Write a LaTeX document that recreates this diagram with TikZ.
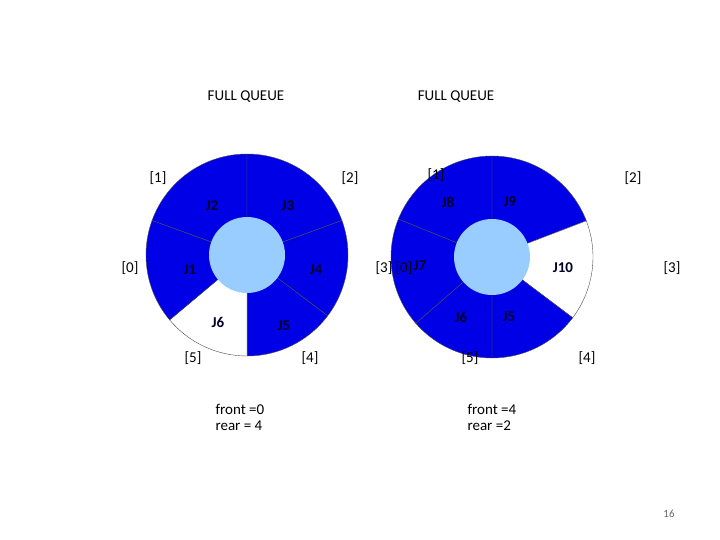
\documentclass[tikz,border=0pt]{standalone}
\usepackage{fontspec}
\setmainfont{Carlito}
\begin{document}
\begin{tikzpicture}[x=1pt,y=-1pt,
  lbl/.style={font=\fontsize{15}{16}\selectfont},
  jl/.style={font=\fontsize{15}{16}\selectfont\bfseries, text=black!85!blue},
  sec/.style={draw=black!70, line width=0.4pt},
  inner/.style={fill=cyan!10!blue!40!white, draw=none}]
\path[use as bounding box] (0,0) rectangle (720,540);
\definecolor{qblue}{RGB}{0,0,230}
\definecolor{lblue}{RGB}{153,204,255}
% left circle
\coordinate (L) at (247,255);
\foreach \a/\b/\c in {90/160/qblue,20/90/qblue,-37/20/qblue,-90/-37/qblue,220/270/white,160/220/qblue}{
  \filldraw[sec, fill=\c] (L) -- ++(\a:101 and -101) arc[start angle=\a, end angle=\b, x radius=101, y radius=-101] -- cycle;}
\fill[lblue] (L) circle (38);
% right circle
\coordinate (R) at (492,257);
\foreach \a/\b/\c in {90/158/qblue,21/90/qblue,-37/21/white,-90/-37/qblue,221/270/qblue,158/221/qblue}{
  \filldraw[sec, fill=\c] (R) -- ++(\a:101 and -101) arc[start angle=\a, end angle=\b, x radius=101, y radius=-101] -- cycle;}
\fill[lblue] (R) circle (38);
% titles
\node[lbl] (t1) at (246,97) {FULL QUEUE};
\node[lbl] (t2) at (456,97) {FULL QUEUE};
% left labels
\node[lbl] (l1) at (158,178) {[1]};
\node[lbl] (l2) at (350,178) {[2]};
\node[lbl] (l0) at (130,268) {[0]};
\node[lbl] (l5) at (193,358) {[5]};
\node[lbl] (l4) at (310,358) {[4]};
\node[jl] (j2) at (212,206) {J2};
\node[jl] (j3) at (288,206) {J3};
\node[jl] (j1) at (190,270) {J1};
\node[jl] (j4) at (316,270) {J4};
\node[jl] (j6) at (218,322) {J6};
\node[jl] (j5) at (284,326) {J5};
% right labels
\node[lbl] (r1) at (436,175) {[1]};
\node[lbl] (r2) at (633,178) {[2]};
\node[lbl] (r3a) at (384,268) {[3]};
\node[lbl] (r0) at (404,268) {[0]};
\node[lbl] (r3) at (672,268) {[3]};
\node[lbl] (r5) at (470,358) {[5]};
\node[lbl] (r4) at (587,358) {[4]};
\node[jl] (j8) at (448,202) {J8};
\node[jl] (j9) at (510,202) {J9};
\node[jl] (j7) at (420,266) {J7};
\node[jl] (j10) at (563,268) {J10};
\node[jl] (j6b) at (461,317) {J6};
\node[jl] (j5b) at (509,317) {J5};
% front/rear
\node[lbl, anchor=west, align=left] (fl) at (212,417) {front =0\\rear = 4};
\node[lbl, anchor=west, align=left] (fr) at (464,417) {front =4\\rear =2};
\node[font=\fontsize{11}{12}\selectfont, text=black!60] (pg) at (669,514) {16};
\end{tikzpicture}
\end{document}
